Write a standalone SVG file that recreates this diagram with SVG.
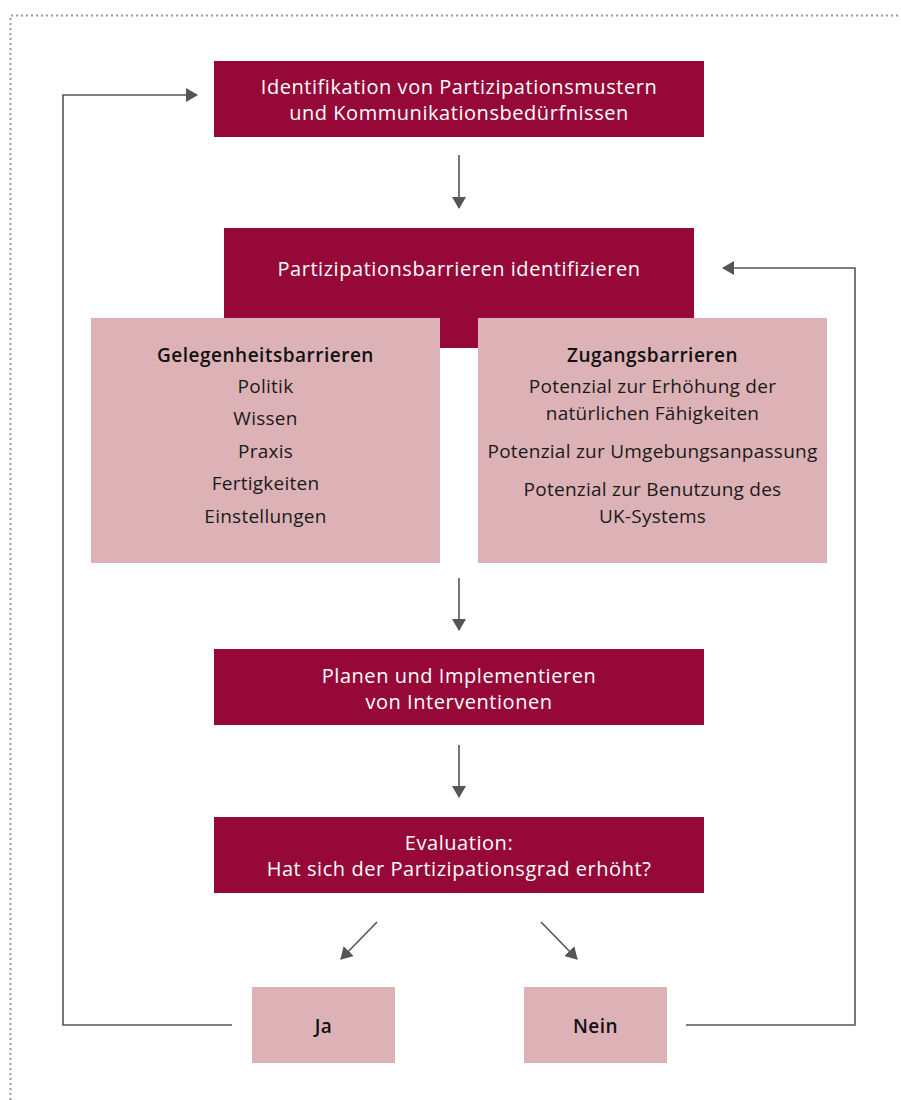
<svg xmlns="http://www.w3.org/2000/svg" width="901" height="1100" viewBox="0 0 901 1100">
<defs>
<style>
.dark{fill:#960837}
.light{fill:#ddb2b7}
.wt{font-family:"Open Sans","Liberation Sans",sans-serif;font-size:20px;letter-spacing:0.55px;fill:#ffffff;text-anchor:middle}
.bt{font-family:"Open Sans","Liberation Sans",sans-serif;font-size:19px;letter-spacing:0.25px;fill:#1a1a1a;text-anchor:middle}
.hd{font-weight:600;letter-spacing:0.5px;fill:#111111}
.conn{fill:none;stroke:#555555;stroke-width:1.6}
</style>
<marker id="ah" viewBox="0 0 12 14" refX="11" refY="7" markerWidth="12" markerHeight="14" markerUnits="userSpaceOnUse" orient="auto">
<path d="M0,0 L12,7 L0,14 Z" fill="#555555"/>
</marker>
</defs>
<rect width="901" height="1100" fill="#ffffff"/>
<path d="M10.5,1100 V15.5 H901" fill="none" stroke="#999999" stroke-width="2" stroke-dasharray="2,3"/>

<g id="connectors">
<line class="conn" x1="459" y1="155" x2="459" y2="208" marker-end="url(#ah)"/>
<line class="conn" x1="459" y1="578" x2="459" y2="630" marker-end="url(#ah)"/>
<line class="conn" x1="459" y1="745" x2="459" y2="797" marker-end="url(#ah)"/>
<line class="conn" x1="377" y1="922" x2="341" y2="959" marker-end="url(#ah)"/>
<line class="conn" x1="541" y1="922" x2="577" y2="959" marker-end="url(#ah)"/>
<polyline class="conn" points="232,1025 63,1025 63,95 197,95" marker-end="url(#ah)"/>
<polyline class="conn" points="686,1025 855,1025 855,268 723,268" marker-end="url(#ah)"/>
</g>

<g id="node-identifikation">
<rect class="dark" x="214" y="61" width="490" height="76"/>
<text class="wt" x="459" y="94">Identifikation von Partizipationsmustern</text>
<text class="wt" x="459" y="120">und Kommunikationsbedürfnissen</text>
</g>

<g id="node-barrieren">
<rect class="dark" x="224" y="228" width="470" height="120"/>
<text class="wt" x="459" y="276">Partizipationsbarrieren identifizieren</text>
</g>

<g id="node-gelegenheit">
<rect class="light" x="91" y="318" width="349" height="245"/>
<text class="bt hd" x="265.5" y="361.5">Gelegenheitsbarrieren</text>
<text class="bt" x="265.5" y="393">Politik</text>
<text class="bt" x="265.5" y="425">Wissen</text>
<text class="bt" x="265.5" y="457.5">Praxis</text>
<text class="bt" x="265.5" y="490">Fertigkeiten</text>
<text class="bt" x="265.5" y="522.5">Einstellungen</text>
</g>

<g id="node-zugang">
<rect class="light" x="478" y="318" width="349" height="245"/>
<text class="bt hd" x="652.5" y="361.5">Zugangsbarrieren</text>
<text class="bt" x="652.5" y="393">Potenzial zur Erhöhung der</text>
<text class="bt" x="652.5" y="420">natürlichen Fähigkeiten</text>
<text class="bt" x="652.5" y="457.5">Potenzial zur Umgebungsanpassung</text>
<text class="bt" x="652.5" y="495.5">Potenzial zur Benutzung des</text>
<text class="bt" x="652.5" y="522.5">UK-Systems</text>
</g>

<g id="node-planen">
<rect class="dark" x="214" y="649" width="490" height="76"/>
<text class="wt" x="459" y="682.5">Planen und Implementieren</text>
<text class="wt" x="459" y="708.5">von Interventionen</text>
</g>

<g id="node-evaluation">
<rect class="dark" x="214" y="817" width="490" height="76"/>
<text class="wt" x="459" y="850">Evaluation:</text>
<text class="wt" x="459" y="876">Hat sich der Partizipationsgrad erhöht?</text>
</g>

<g id="node-ja">
<rect class="light" x="252" y="987" width="143" height="76"/>
<text class="bt hd" x="323.5" y="1032.5">Ja</text>
</g>

<g id="node-nein">
<rect class="light" x="524" y="987" width="143" height="76"/>
<text class="bt hd" x="595.5" y="1032.5">Nein</text>
</g>
</svg>
